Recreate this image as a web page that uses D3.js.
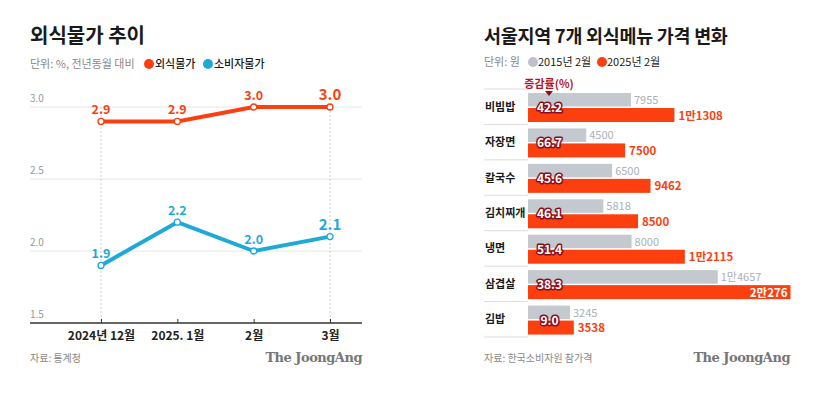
<!DOCTYPE html>
<html>
<head>
<meta charset="utf-8">
<script src="https://cdn.jsdelivr.net/npm/d3@7"></script>
<style>
  body { margin: 0; background: #fff; }
  svg { font-family: "Noto Sans CJK KR", "Noto Sans", sans-serif; }
</style>
</head>
<body>
<svg id="chart" width="814" height="393"></svg>
<script>
// left chart data
const months = ['2024년 12월', '2025. 1월', '2월', '3월'];
const diningPrice = [2.9, 2.9, 3.0, 3.0];
const consumerPrice = [1.9, 2.2, 2.0, 2.1];
const yTicks = [1.5, 2.0, 2.5, 3.0];

// right chart data
const menus = ['비빔밥', '자장면', '칼국수', '김치찌개', '냉면', '삼겹살', '김밥'];
const price2015 = [7955, 4500, 6500, 5818, 8000, 14657, 3245];
const price2025 = [11308, 7500, 9462, 8500, 12115, 20276, 3538];
const changeRate = [42.2, 66.7, 45.6, 46.1, 51.4, 38.3, 9.0];

const ORANGE = '#fb3f0f';
const BLUE = '#1fa9d6';
const GREY_BAR = '#c3c9cf';
const DARK = '#1a1a1a';

const svg = d3.select('#chart');

// ---------- left: line chart ----------
const left = svg.append('g');

left.append('text').attr('x', 30).attr('y', 43)
    .attr('font-size', 20).attr('font-weight', 700).attr('fill', DARK)
    .text('외식물가 추이');

left.append('text').attr('x', 30).attr('y', 68)
    .attr('font-size', 11).attr('fill', '#888')
    .text('단위: %, 전년동월 대비');

const legendL = [{ name: '외식물가', color: ORANGE, x: 149 }, { name: '소비자물가', color: BLUE, x: 208 }];
legendL.forEach(d => {
    left.append('circle').attr('cx', d.x).attr('cy', 64).attr('r', 5).attr('fill', d.color);
    left.append('text').attr('x', d.x + 6).attr('y', 68)
        .attr('font-size', 11).attr('font-weight', 500).attr('fill', DARK).text(d.name);
});

const x = d3.scalePoint().domain(months).range([101, 330]);
const y = d3.scaleLinear().domain([1.5, 3.0]).range([323, 107]);

// gridlines + tick labels
yTicks.slice(1).forEach(t => {
    left.append('line').attr('x1', 30).attr('x2', 362)
        .attr('y1', y(t)).attr('y2', y(t))
        .attr('stroke', '#e6e6e6').attr('stroke-width', 1);
});
yTicks.forEach(t => {
    left.append('text').attr('x', 30).attr('y', y(t) - 5)
        .attr('font-size', 10).attr('fill', '#999').text(t.toFixed(1));
});

// dotted verticals at first and last month
[months[0], months[months.length - 1]].forEach(m => {
    left.append('line').attr('x1', x(m)).attr('x2', x(m))
        .attr('y1', y(3.0)).attr('y2', y(1.5))
        .attr('stroke', '#cfcfcf').attr('stroke-dasharray', '2,2');
});

// x axis
const xAxis = d3.axisBottom(x).tickSize(-4).tickPadding(8);
const gx = left.append('g').attr('transform', `translate(0,${y(1.5)})`).call(xAxis);
gx.select('.domain').remove();
gx.selectAll('.tick line').attr('stroke', '#333');
gx.selectAll('.tick text').attr('font-size', 12).attr('font-weight', 700)
    .attr('fill', '#222').attr('font-family', '"Noto Sans CJK KR", sans-serif');
left.append('line').attr('x1', 30).attr('x2', 362)
    .attr('y1', y(1.5)).attr('y2', y(1.5)).attr('stroke', '#333').attr('stroke-width', 1.5);

const line = d3.line().x((d, i) => x(months[i])).y(d => y(d));

[{ vals: diningPrice, color: ORANGE }, { vals: consumerPrice, color: BLUE }].forEach(s => {
    left.append('path').datum(s.vals)
        .attr('fill', 'none').attr('stroke', s.color).attr('stroke-width', 4)
        .attr('d', line);
    left.selectAll(null).data(s.vals).enter().append('circle')
        .attr('cx', (d, i) => x(months[i])).attr('cy', d => y(d)).attr('r', 3)
        .attr('fill', '#fff').attr('stroke', s.color).attr('stroke-width', 1.3);
    left.selectAll(null).data(s.vals).enter().append('text')
        .attr('x', (d, i) => x(months[i])).attr('y', d => y(d) - 7)
        .attr('text-anchor', 'middle')
        .attr('font-size', (d, i) => i === s.vals.length - 1 ? 15 : 12.5)
        .attr('font-weight', 700).attr('fill', s.color)
        .text(d => d.toFixed(1));
});

left.append('text').attr('x', 30).attr('y', 362)
    .attr('font-size', 10).attr('fill', '#888').text('자료: 통계청');
left.append('text').attr('x', 362).attr('y', 362).attr('text-anchor', 'end')
    .attr('font-family', '"DejaVu Serif", "Liberation Serif", serif')
    .attr('font-size', 13).attr('font-weight', 700).attr('fill', '#777')
    .attr('letter-spacing', -0.5).text('The JoongAng');

// ---------- right: bar chart ----------
const right = svg.append('g');

right.append('text').attr('x', 484).attr('y', 43)
    .attr('font-size', 18.5).attr('font-weight', 700).attr('fill', DARK)
    .attr('letter-spacing', -0.3)
    .text('서울지역 7개 외식메뉴 가격 변화');

right.append('text').attr('x', 484).attr('y', 66)
    .attr('font-size', 11).attr('fill', '#888').text('단위: 원');
const legendR = [{ name: '2015년 2월', color: '#bcc2c8', x: 533 }, { name: '2025년 2월', color: ORANGE, x: 602 }];
legendR.forEach(d => {
    right.append('circle').attr('cx', d.x).attr('cy', 62).attr('r', 5).attr('fill', d.color);
    right.append('text').attr('x', d.x + 5).attr('y', 66)
        .attr('font-size', 11).attr('fill', DARK).text(d.name);
});

const band = d3.scaleBand().domain(menus).range([89, 337]);
const xb = d3.scaleLinear().domain([0, 20276]).range([528, 790.5]);
const bh = band.bandwidth();

const fmtWon = v => v >= 10000 ? Math.floor(v / 10000) + '만' + (v % 10000) : String(v);

// row separators
d3.range(menus.length + 1).forEach(i => {
    const yy = 89 + i * bh;
    right.append('line').attr('x1', 484).attr('x2', 528).attr('y1', yy).attr('y2', yy)
        .attr('stroke', '#dcdcdc');
});

const rows = right.selectAll('g.row').data(menus).enter().append('g')
    .attr('class', 'row').attr('transform', d => `translate(0,${band(d)})`);

rows.append('text').attr('x', 485).attr('y', bh / 2 + 4)
    .attr('font-size', 11).attr('font-weight', 700).attr('fill', DARK).text(d => d);

rows.append('rect').attr('x', xb(0)).attr('y', 4)
    .attr('width', (d, i) => xb(price2015[i]) - xb(0)).attr('height', 13.5)
    .attr('fill', GREY_BAR);
rows.append('rect').attr('x', xb(0)).attr('y', 19)
    .attr('width', (d, i) => xb(price2025[i]) - xb(0)).attr('height', 14)
    .attr('fill', ORANGE);

rows.append('text').attr('x', (d, i) => xb(price2015[i]) + 3).attr('y', 15)
    .attr('font-size', 11).attr('fill', '#aab1b8').text((d, i) => fmtWon(price2015[i]));

rows.append('text')
    .attr('x', (d, i) => i === 5 ? xb(price2025[i]) - 3 : xb(price2025[i]) + 4)
    .attr('y', 30.5)
    .attr('text-anchor', (d, i) => i === 5 ? 'end' : 'start')
    .attr('font-size', 11.5).attr('font-weight', 700)
    .attr('fill', (d, i) => i === 5 ? '#fff' : ORANGE)
    .text((d, i) => fmtWon(price2025[i]));

rows.append('text').attr('x', 549.5).attr('y', 23)
    .attr('text-anchor', 'middle')
    .attr('font-size', 12).attr('font-weight', 700)
    .attr('fill', '#fff').attr('stroke', '#8a0e1e').attr('stroke-width', 3)
    .attr('paint-order', 'stroke').attr('stroke-linejoin', 'round')
    .text((d, i) => changeRate[i].toFixed(1));

right.append('text').attr('x', 549).attr('y', 88)
    .attr('text-anchor', 'middle').attr('font-size', 11).attr('font-weight', 700)
    .attr('fill', '#b0172b').text('증감률(%)');
right.append('path').attr('d', 'M545,91 L553,91 L549,96 Z').attr('fill', '#8a0e1e');

right.append('text').attr('x', 484).attr('y', 362)
    .attr('font-size', 10).attr('fill', '#888').text('자료: 한국소비자원 참가격');
right.append('text').attr('x', 790).attr('y', 362).attr('text-anchor', 'end')
    .attr('font-family', '"DejaVu Serif", "Liberation Serif", serif')
    .attr('font-size', 13).attr('font-weight', 700).attr('fill', '#777')
    .attr('letter-spacing', -0.5).text('The JoongAng');
</script>
</body>
</html>
